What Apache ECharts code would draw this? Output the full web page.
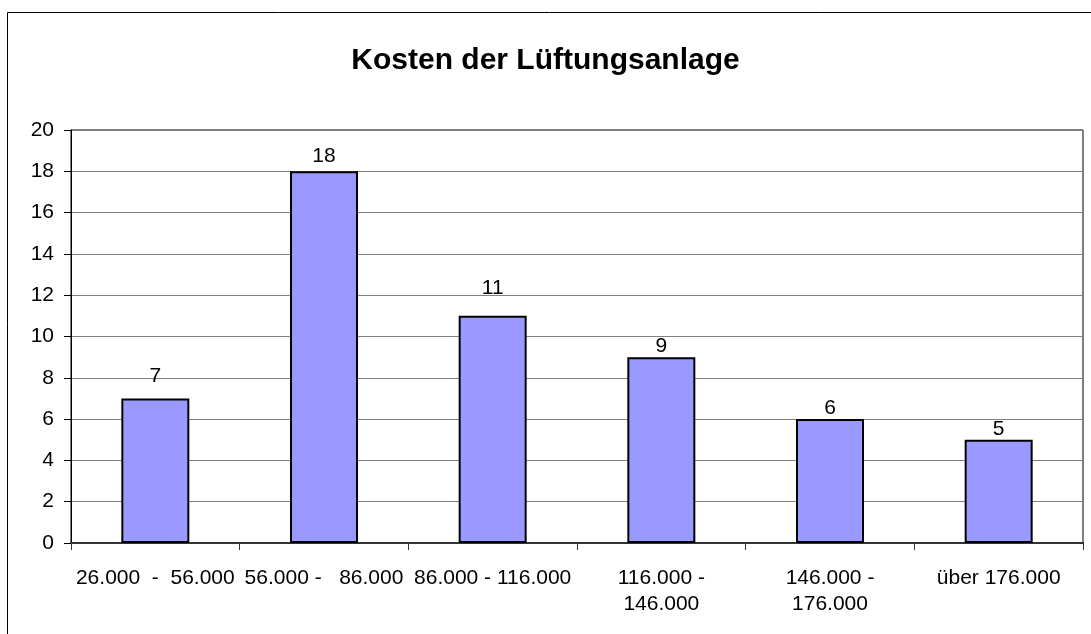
<!DOCTYPE html>
<html>
<head>
<meta charset="utf-8">
<script src="https://cdn.jsdelivr.net/npm/echarts@6/dist/echarts.min.js"></script>
<style>
  html, body { margin: 0; padding: 0; background: #fff; }
  #chart { width: 1091px; height: 634px; }
</style>
</head>
<body>
<div id="chart"></div>
<script>
var categories = ['26.000  -  56.000', '56.000 -   86.000', '86.000 - 116.000', '116.000 -\n146.000', '146.000 -\n176.000', 'über 176.000']
var counts = [7, 18, 11, 9, 6, 5]
// gap above each bar, as drawn in the original
var labelGap = [12, 5, 17, 0, 0, 0]

var myChart = echarts.init(document.getElementById('chart'))
var font = 'Liberation Sans, Arial, sans-serif'

var option = {
    backgroundColor: '#fff',
    animation: false,
    title: {
        text: 'Kosten der Lüftungsanlage',
        left: 'center',
        top: 41,
        textStyle: { fontFamily: font, fontSize: 30, fontWeight: 'bold', color: '#000' }
    },
    graphic: [{
        type: 'rect',
        shape: { x: 7.5, y: 12.5, width: 1200, height: 800 },
        style: { fill: 'none', stroke: '#000', lineWidth: 1 },
        silent: true
    }],
    grid: {
        left: 71, top: 130, right: 8, bottom: 91,
        show: true, borderColor: '#000', borderWidth: 1,
        containLabel: false
    },
    xAxis: {
        type: 'category',
        data: categories,
        axisLine: { lineStyle: { color: '#333', width: 2 } },
        axisTick: { show: true, length: 7, alignWithLabel: false, lineStyle: { color: '#333' } },
        axisLabel: { fontFamily: font, fontSize: 21, color: '#000', margin: 22, lineHeight: 26, interval: 0 }
    },
    yAxis: {
        type: 'value',
        min: 0, max: 20, interval: 2,
        axisLine: { show: true, lineStyle: { color: '#000' } },
        axisTick: { show: true, length: 7, lineStyle: { color: '#000' } },
        axisLabel: { fontFamily: font, fontSize: 21, color: '#000', margin: 17 },
        splitLine: { lineStyle: { color: '#808080', width: 1 } }
    },
    series: [{
        type: 'bar',
        barWidth: 68,
        data: counts.map(function (v, i) {
            return { value: v, label: { distance: labelGap[i] } }
        }),
        itemStyle: { color: '#9999FF', borderColor: '#000', borderWidth: 2 },
        label: { show: true, position: 'top', fontFamily: font, fontSize: 21, color: '#000' }
    }]
}

myChart.setOption(option)
</script>
</body>
</html>
